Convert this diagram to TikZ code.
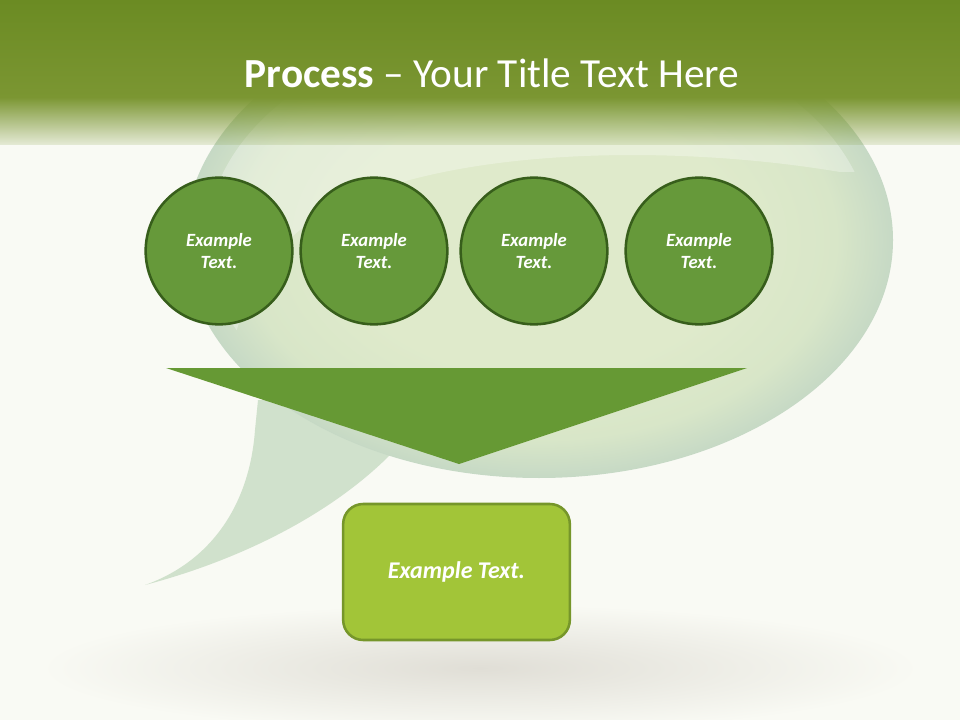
\documentclass[tikz,border=0pt]{standalone}
\usepackage{fontspec}
\setmainfont{Carlito}
\usetikzlibrary{fadings}
\definecolor{bgwhite}{HTML}{F9FAF4}
\definecolor{hdrtop}{HTML}{6B8B23}
\definecolor{hdrbot}{HTML}{7B9632}
\definecolor{bubin}{HTML}{DFEACB}
\definecolor{bubmid}{HTML}{D8E6C8}
\definecolor{bubout}{HTML}{C6D9C5}
\definecolor{tailgreen}{HTML}{D0E1CC}
\definecolor{shadowgray}{HTML}{E0DED6}
\definecolor{circgreen}{HTML}{66993A}
\definecolor{circedge}{HTML}{375E1B}
\definecolor{arrowgreen}{HTML}{669934}
\definecolor{boxgreen}{HTML}{A2C538}
\definecolor{boxedge}{HTML}{76962A}
\tikzfading[name=headfade, top color=transparent!0, bottom color=transparent!85]
\pgfdeclareradialshading{bubbleshade}{\pgfpoint{0bp}{0bp}}{color(0bp)=(bubin); color(14bp)=(bubin); color(21bp)=(bubmid); color(25bp)=(bubout); color(50bp)=(bubout)}
\tikzset{
  proccircle/.style={circle, draw=circedge, line width=1.9pt, fill=circgreen,
    minimum size=110pt, inner sep=0pt, text=white, align=center,
    font=\bfseries\itshape\fontsize{14}{17}\selectfont},
  resultbox/.style={rectangle, rounded corners=15pt, draw=boxedge, line width=1.9pt,
    fill=boxgreen, minimum width=170pt, minimum height=102pt, text=white,
    font=\bfseries\itshape\fontsize{18}{22}\selectfont}
}
\begin{document}
\begin{tikzpicture}[x=0.75pt,y=-0.75pt]
\useasboundingbox (0,0) rectangle (960,720);
\fill[bgwhite] (0,0) rectangle (960,720);
% shadow under the bubble
\shade[inner color=shadowgray, outer color=bgwhite] (480,668) ellipse (440 and 64);
% speech bubble
\fill[tailgreen] (258,400) -- (255,430) .. controls (250,500) and (215,560) .. (145,585)
  .. controls (240,560) and (330,515) .. (390,455) -- (400,400) -- cycle;
\shade[shading=bubbleshade] (539,240) ellipse (354 and 238);
\begin{scope}
  \clip (539,240) ellipse (332 and 218);
  \fill[white, opacity=0.3] (200,420) -- (200,0) -- (900,0) -- (900,172) -- (840,172)
    .. controls (650,140) and (400,150) .. (300,230) .. controls (250,270) and (230,330) .. (220,420) -- cycle;
\end{scope}
% header band
\shade[top color=hdrtop, bottom color=hdrbot] (0,0) rectangle (960,98);
\fill[hdrbot, path fading=headfade] (0,97) rectangle (960,145);
\node[anchor=base, text=white, font=\fontsize{31}{37}\selectfont] (title) at (492,88)
  {\textbf{Process} -- Your Title Text Here};
% steps
\node[proccircle] (c1) at (219,251) {Example\\Text.};
\node[proccircle] (c2) at (374,251) {Example\\Text.};
\node[proccircle] (c3) at (534,251) {Example\\Text.};
\node[proccircle] (c4) at (699,251) {Example\\Text.};
\fill[arrowgreen] (166,368) -- (747,368) -- (459,464) -- cycle;
\node[resultbox] (result) at (456.5,572) {Example Text.};
\end{tikzpicture}
\end{document}
